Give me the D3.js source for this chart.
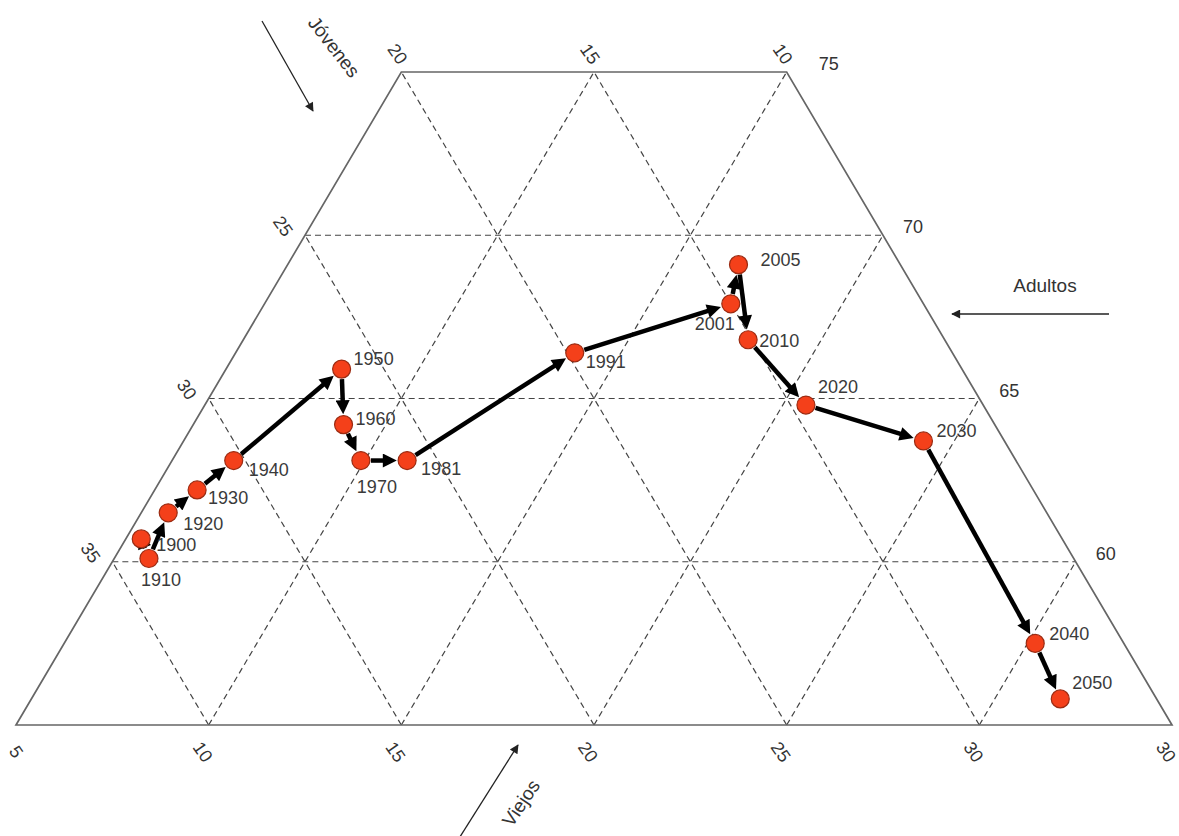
<!DOCTYPE html>
<html>
<head>
<meta charset="utf-8">
<script src="https://cdn.jsdelivr.net/npm/d3@7"></script>
<style>
  body { margin: 0; background: #fff; }
  svg { display: block; }
</style>
</head>
<body>
<svg id="chart" width="1179" height="836"></svg>
<script>
// ---- data (percent of population) ----
const years   = ["1900","1910","1920","1930","1940","1950","1960","1970","1981","1991","2001","2005","2010","2020","2030","2040","2050"];
const jovenes = [33.9, 34.0, 32.8, 31.7, 30.3, 26.1, 26.9, 27.0, 25.8, 19.8, 15.0, 14.2, 15.1, 14.6, 12.1, 12.3, 12.5];
const adultos = [60.7, 60.1, 61.5, 62.2, 63.1, 65.9, 64.2, 63.1, 63.1, 66.4, 67.9, 69.1, 66.8, 64.8, 63.7, 57.5, 55.8];
const viejos  = [ 5.4,  5.9,  5.7,  6.1,  6.6,  8.0,  8.9,  9.9, 11.1, 13.8, 17.1, 16.7, 18.1, 20.6, 24.2, 30.2, 31.7];

// ---- axis ticks ----
const viejosTicks       = [5, 10, 15, 20, 25, 30, 35];
const viejosTickLabels  = ["5", "10", "15", "20", "25", "30", "30"];
const jovenesTicks      = [35, 30, 25, 20, 15, 10];
const jovenesTickLabels = ["35", "30", "25", "20", "15", "10"];
const adultosTicks      = [75, 70, 65, 60];
const adultosTickLabels = ["75", "70", "65", "60"];
const gridAdultos = [60, 65, 70];
const gridViejos  = [10, 15, 20, 25, 30];
const gridJovenes = [15, 20, 25, 30, 35];
const axisTitles  = ["Jóvenes", "Adultos", "Viejos"];

// ---- layout (not data) ----
const labelOffsets = [
  [15,12],[-8,28],[15,17],[11,14],[15,15],[12,-4],[12,0],[-4,32],[14,14],
  [11,15],[-36,26],[22,1],[11,7],[12,-12],[13,-4],[14,-3],[12,-10]
];

const svg = d3.select("#chart");
const A_MIN = 55, A_MAX = 75, V_MIN = 5, J_MIN = 10;

// horizontal coordinate u = (V - Vmin) + (A - Amin)/2  (ternary skew)
const xScale = d3.scaleLinear().domain([0, 30]).range([16, 1172]);
const yScale = d3.scaleLinear().domain([A_MIN, A_MAX]).range([725, 72]);

function proj(a, v) {
  return [xScale((v - V_MIN) + (a - A_MIN) / 2), yScale(a)];
}
function projJAV(j, a, v) {
  const s = j + a + v;
  return proj(a * 100 / s, v * 100 / s);
}

const defs = svg.append("defs");
defs.append("marker")
  .attr("id", "ahBig").attr("viewBox", "0 0 10 10")
  .attr("refX", 4.5).attr("refY", 5)
  .attr("markerWidth", 16).attr("markerHeight", 14)
  .attr("markerUnits", "userSpaceOnUse").attr("orient", "auto")
  .append("path").attr("d", "M0,0 L10,5 L0,10 Z").attr("fill", "#000");
defs.append("marker")
  .attr("id", "ahSmall").attr("viewBox", "0 0 10 10")
  .attr("refX", 9).attr("refY", 5)
  .attr("markerWidth", 12).attr("markerHeight", 9)
  .attr("markerUnits", "userSpaceOnUse").attr("orient", "auto")
  .append("path").attr("d", "M0,0 L10,5 L0,10 Z").attr("fill", "#222");

const line = d3.line();

// ---- dashed grid ----
const gridG = svg.append("g")
  .attr("stroke", "#444").attr("stroke-width", 1.2)
  .attr("stroke-dasharray", "6,4").attr("fill", "none");
gridAdultos.forEach(a => {
  gridG.append("path").attr("d", line([proj(a, V_MIN), proj(a, 100 - J_MIN - a)]));
});
gridViejos.forEach(v => {
  const aTop = Math.min(A_MAX, 100 - J_MIN - v);
  gridG.append("path").attr("d", line([proj(A_MIN, v), proj(aTop, v)]));
});
gridJovenes.forEach(j => {
  const aTop = Math.min(A_MAX, 100 - j - V_MIN);
  gridG.append("path").attr("d", line([proj(A_MIN, 100 - j - A_MIN), proj(aTop, 100 - j - aTop)]));
});

// ---- outline ----
svg.append("path")
  .attr("d", line([
    proj(A_MIN, V_MIN), proj(A_MIN, 100 - J_MIN - A_MIN),
    proj(A_MAX, 100 - J_MIN - A_MAX), proj(A_MAX, V_MIN)
  ]) + "Z")
  .attr("fill", "none").attr("stroke", "#666").attr("stroke-width", 1.7);

// ---- tick labels ----
const tickFont = "'Liberation Sans', Arial, sans-serif";
const tickG = svg.append("g").attr("font-family", tickFont).attr("font-size", 18)
  .attr("fill", "#333").attr("text-anchor", "middle").attr("dominant-baseline", "central");

viejosTicks.forEach((v, i) => {
  const [x, y] = proj(A_MIN, v);
  const dx = (i === 0) ? 0 : -6;
  tickG.append("text")
    .attr("transform", `translate(${x + dx},${y + 27}) rotate(55)`)
    .text(viejosTickLabels[i]);
});
jovenesTicks.forEach((j, i) => {
  let x, y;
  if (j >= 25) {
    [x, y] = proj(100 - j - V_MIN, V_MIN);
    x -= 22; y -= 9;
  } else {
    [x, y] = proj(A_MAX, 100 - j - A_MAX);
    x -= 4; y -= 18;
  }
  tickG.append("text")
    .attr("transform", `translate(${x},${y}) rotate(55)`)
    .text(jovenesTickLabels[i]);
});
adultosTicks.forEach((a, i) => {
  const [x, y] = proj(a, 100 - J_MIN - a);
  tickG.append("text")
    .attr("x", x + (a === A_MAX ? 42 : 30)).attr("y", y - 8)
    .text(adultosTickLabels[i]);
});

// ---- axis titles with direction arrows ----
const titleG = svg.append("g").attr("font-family", tickFont).attr("font-size", 19).attr("fill", "#333");
titleG.append("text").attr("transform", "translate(334,47) rotate(52)")
  .attr("text-anchor", "middle").attr("dominant-baseline", "central").text(axisTitles[0]);
titleG.append("text").attr("x", 1045).attr("y", 285)
  .attr("text-anchor", "middle").attr("dominant-baseline", "central").text(axisTitles[1]);
titleG.append("text").attr("transform", "translate(521,803) rotate(-56)")
  .attr("text-anchor", "middle").attr("dominant-baseline", "central").text(axisTitles[2]);

const arrG = svg.append("g").attr("stroke", "#222").attr("stroke-width", 1.3).attr("fill", "none");
arrG.append("path").attr("d", line([[262, 21], [313, 111]])).attr("marker-end", "url(#ahSmall)");
arrG.append("path").attr("d", line([[1109, 314], [952, 314]])).attr("marker-end", "url(#ahSmall)");
arrG.append("path").attr("d", line([[458, 840], [518, 745]])).attr("marker-end", "url(#ahSmall)");

// ---- trajectory ----
const pts = years.map((yr, i) => ({
  year: yr, p: projJAV(jovenes[i], adultos[i], viejos[i]), off: labelOffsets[i]
}));
const R = 9;
const pathG = svg.append("g").attr("stroke", "#000").attr("stroke-width", 4.5).attr("fill", "none");
for (let i = 0; i < pts.length - 1; i++) {
  const [x1, y1] = pts[i].p, [x2, y2] = pts[i + 1].p;
  const dx = x2 - x1, dy = y2 - y1, L = Math.hypot(dx, dy);
  const ux = dx / L, uy = dy / L;
  const s = R + 1, e = R + 9;
  pathG.append("path")
    .attr("d", line([[x1 + ux * s, y1 + uy * s], [x2 - ux * e, y2 - uy * e]]))
    .attr("marker-end", "url(#ahBig)");
}

svg.append("g").selectAll("circle").data(pts).join("circle")
  .attr("cx", d => d.p[0]).attr("cy", d => d.p[1]).attr("r", R)
  .attr("fill", "#f4401a").attr("stroke", "#9b2b12").attr("stroke-width", 1.2);

svg.append("g").attr("font-family", tickFont).attr("font-size", 18).attr("fill", "#3a3a3a")
  .selectAll("text").data(pts).join("text")
  .attr("x", d => d.p[0] + d.off[0]).attr("y", d => d.p[1] + d.off[1])
  .text(d => d.year);
</script>
</body>
</html>
